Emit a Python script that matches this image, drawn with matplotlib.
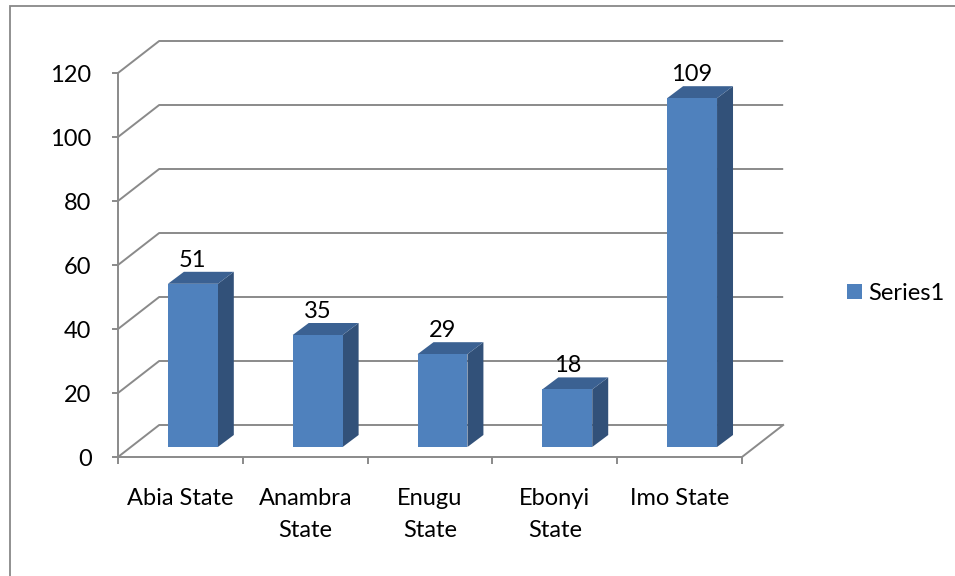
import matplotlib
matplotlib.use("Agg")
import matplotlib.pyplot as plt
from matplotlib.patches import Polygon, Rectangle

categories = ["Abia State", "Anambra\nState", "Enugu\nState", "Ebonyi\nState", "Imo State"]
values = [51, 35, 29, 18, 109]
yticks = [0, 20, 40, 60, 80, 100, 120]
series_name = "Series1"

plt.rcParams['font.family'] = ['Lato', 'DejaVu Sans']

W, H = 955, 576
fig = plt.figure(figsize=(W / 100, H / 100), dpi=100)
fig.patch.set_facecolor('white')

# front plane of the 3D box
left, right, bottom, top = 118, 742, 457, 73
ax = fig.add_axes([left / W, 1 - bottom / H, (right - left) / W, (bottom - top) / H])
ax.set_xlim(-0.5, len(categories) - 0.5)
ax.set_ylim(0, 120)
ax.patch.set_alpha(0)

grid_c = '#8a8a8a'
FS = 17
# depth offsets (data units)
DX, DY = 0.33, 10.0          # full floor depth
GAP_X, GAP_Y = 0.1, 3.125     # bar front offset
BDX, BDY = 0.128, 3.75        # bar depth

x0, x1 = -0.5, len(categories) - 0.5
for v in yticks:
    ax.plot([x0, x0 + DX, x1 + DX], [v, v + DY, v + DY], color=grid_c, lw=1.4,
            clip_on=False, zorder=1, solid_capstyle='butt')
# floor right edge
ax.plot([x1, x1 + DX], [0, DY], color=grid_c, lw=1.4, clip_on=False, zorder=1)

front_c = '#4F81BD'
side_c = '#325179'
top_c = '#3B6192'
bw = 0.4
xs = [i + GAP_X for i in range(len(categories))]
ax.bar(xs, values, width=bw, bottom=GAP_Y, color=front_c, zorder=4, clip_on=False,
       label=series_name)
for x, v in zip(xs, values):
    xl, xr = x - bw / 2, x + bw / 2
    ytop = GAP_Y + v
    side = Polygon([(xr, GAP_Y), (xr + BDX, GAP_Y + BDY), (xr + BDX, ytop + BDY), (xr, ytop)],
                   closed=True, facecolor=side_c, edgecolor='none', zorder=3, clip_on=False)
    topf = Polygon([(xl, ytop), (xr, ytop), (xr + BDX, ytop + BDY), (xl + BDX, ytop + BDY)],
                   closed=True, facecolor=top_c, edgecolor='none', zorder=3, clip_on=False)
    ax.add_patch(side)
    ax.add_patch(topf)
    ax.annotate(str(v), (x, ytop), xytext=(0, 17), textcoords='offset pixels',
                ha='center', va='baseline', fontsize=FS, color='black', zorder=6,
                annotation_clip=False)

for s in ['top', 'right']:
    ax.spines[s].set_visible(False)
for s in ['left', 'bottom']:
    ax.spines[s].set_color(grid_c)
    ax.spines[s].set_linewidth(1.4)
    ax.spines[s].set_zorder(2)

ax.set_yticks(yticks)
ax.set_yticklabels([str(t) for t in yticks], fontsize=FS)
ax.tick_params(axis='y', length=4, width=1.4, color=grid_c, pad=15)
ax.set_xticks(range(len(categories)))
ax.set_xticklabels(categories, fontsize=FS, linespacing=1.7)
ax.set_xticks([i - 0.5 for i in range(len(categories) + 1)], minor=True)
ax.tick_params(axis='x', which='major', length=0, pad=22)
ax.tick_params(axis='x', which='minor', length=5, width=1.4, color=grid_c)

leg = fig.legend(loc='center left', bbox_to_anchor=(838 / W, 1 - 293 / H), frameon=False,
                 fontsize=FS, handlelength=0.6, handleheight=0.6, handletextpad=0.3,
                 borderaxespad=0)

# outer chart border
fig.add_artist(Rectangle((9.5 / W, -0.1), 1.2, (1 - 5.5 / H) + 0.1, transform=fig.transFigure,
                         facecolor='none', edgecolor='#888888', lw=1.3))

fig.savefig('out.png', dpi=100)
